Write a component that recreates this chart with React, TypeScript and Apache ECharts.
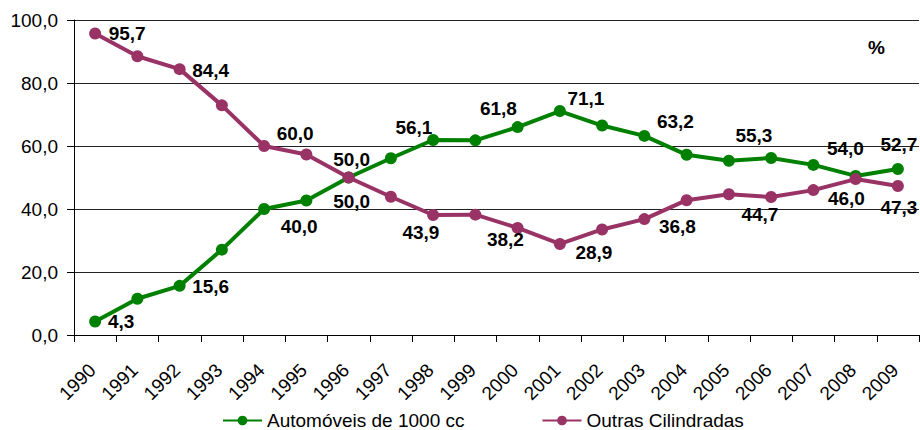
import React, { useEffect, useRef } from "react";
import * as echarts from "echarts";

const years = ["1990","1991","1992","1993","1994","1995","1996","1997","1998","1999","2000","2001","2002","2003","2004","2005","2006","2007","2008","2009"];
const automoveis = [4.3, 11.5, 15.6, 27.1, 40.0, 42.7, 50.0, 56.1, 61.9, 61.8, 66.0, 71.1, 66.5, 63.2, 57.2, 55.3, 56.2, 54.0, 50.5, 52.7];
const outras = [95.7, 88.5, 84.4, 72.9, 60.0, 57.3, 50.0, 43.9, 38.1, 38.2, 34.0, 28.9, 33.5, 36.8, 42.8, 44.7, 43.8, 46.0, 49.5, 47.3];
const labelledYears = ["1990","1992","1994","1996","1997","1999","2001","2003","2005","2007","2009"];
const seriesNames = ["Automóveis de 1000 cc", "Outras Cilindradas"];
const yTicks = { min: 0, max: 100, interval: 20 };

const FONT = "'Liberation Sans', Arial, sans-serif";
const GREEN = "#008000";
const PLUM = "#993366";

// label placement (pixel offsets from the point), per labelled year
const greenOffsets: Record<string, number[]> = {
  "1990": [26, 0], "1992": [31, 1], "1994": [35, 17], "1996": [3, 24], "1997": [23, -31],
  "1999": [23, -32], "2001": [26, -13], "2003": [31, -14], "2005": [25, -25], "2007": [32, -16], "2009": [1, -24],
};
const plumOffsets: Record<string, number[]> = {
  "1990": [32, 0], "1992": [31, 1], "1994": [31, -13], "1996": [3, -18], "1997": [30, 36],
  "1999": [30, 25], "2001": [34, 9], "2003": [33, 7], "2005": [31, 20], "2007": [33, 8], "2009": [1, 21],
};

const fmt = (v: number) => v.toFixed(1).replace(".", ",");

function buildData(values: number[], offsets: Record<string, number[]>) {
  return values.map((v, i) => {
    const y = years[i];
    if (labelledYears.includes(y)) {
      return {
        value: v,
        label: {
          show: true,
          position: "inside",
          offset: offsets[y],
          align: "center",
          verticalAlign: "middle",
          formatter: () => fmt(v),
          fontFamily: FONT,
          fontSize: 19,
          fontWeight: "bold",
          color: "#000",
        },
      };
    }
    return { value: v };
  });
}

export default function App() {
  const ref = useRef<HTMLDivElement>(null);
  useEffect(() => {
    if (!ref.current) return;
    const chart = echarts.init(ref.current, undefined, { renderer: "svg" });
    chart.setOption({
      animation: false,
      backgroundColor: "#fff",
      textStyle: { fontFamily: FONT, color: "#000" },
      title: {
        text: "%",
        left: 863,
        top: 33,
        textStyle: { fontFamily: FONT, fontSize: 19, fontWeight: "bold", color: "#000" },
      },
      grid: { left: 74, right: 1, top: 20, bottom: 95, containLabel: false },
      legend: {
        left: 222,
        top: 411,
        padding: 0,
        itemWidth: 39,
        itemHeight: 12,
        itemGap: 77,
        textStyle: { fontFamily: FONT, fontSize: 19, lineHeight: 18, color: "#000" },
        data: seriesNames,
      },
      xAxis: {
        type: "category",
        data: years,
        boundaryGap: true,
        axisLine: { show: true, lineStyle: { color: "#000", width: 1 } },
        axisTick: { show: true, length: 7, lineStyle: { color: "#000" } },
        axisLabel: {
          interval: 0,
          rotate: 45,
          margin: 29,
          padding: [0, 4, 0, 0],
          fontFamily: FONT,
          fontSize: 19,
          color: "#000",
        },
        splitLine: { show: false },
      },
      yAxis: {
        type: "value",
        min: yTicks.min,
        max: yTicks.max,
        interval: yTicks.interval,
        axisLine: { show: true, lineStyle: { color: "#000", width: 1 } },
        axisTick: { show: true, length: 7, lineStyle: { color: "#000" } },
        axisLabel: {
          margin: 16,
          fontFamily: FONT,
          fontSize: 19,
          color: "#000",
          formatter: (v: number) => fmt(v),
        },
        splitLine: { show: true, lineStyle: { color: "#222", width: 1 } },
      },
      series: [
        {
          name: seriesNames[0],
          type: "line",
          data: buildData(automoveis, greenOffsets),
          symbol: "circle",
          symbolSize: 12,
          showAllSymbol: true,
          lineStyle: { color: GREEN, width: 4 },
          itemStyle: { color: GREEN },
          label: { show: false },
          z: 2,
        },
        {
          name: seriesNames[1],
          type: "line",
          data: buildData(outras, plumOffsets),
          symbol: "circle",
          symbolSize: 12,
          showAllSymbol: true,
          lineStyle: { color: PLUM, width: 4 },
          itemStyle: { color: PLUM },
          label: { show: false },
          z: 3,
        },
      ],
    });
    return () => chart.dispose();
  }, []);
  return (
    <div
      ref={ref}
      style={{ position: "fixed", left: 0, top: 0, width: 920, height: 430 }}
    />
  );
}
